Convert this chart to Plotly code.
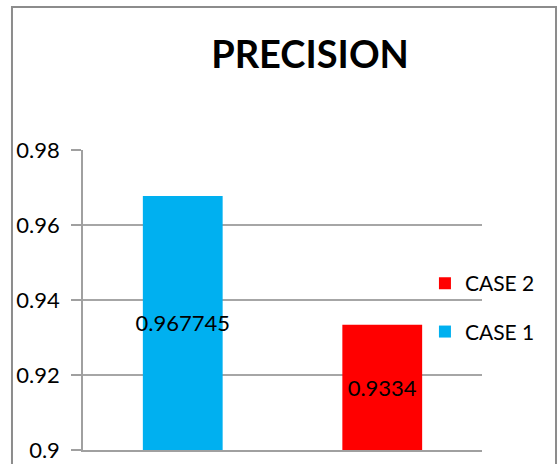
import plotly.graph_objects as go

categories = ["CASE 1", "CASE 2"]
values = [0.967745, 0.9334]
colors = ["#00B0F0", "#FF0000"]
legend_ranks = [2, 1]
y_ticks = [0.9, 0.92, 0.94, 0.96, 0.98]
y_tick_labels = ["0.9", "0.92", "0.94", "0.96", "0.98"]
axis_min = 0.9
axis_max = 0.98
title_text = "PRECISION"

FONT = "Lato"

fig = go.Figure()
for cat, val, col, rank in zip(categories, values, colors, legend_ranks):
    # bar drawn from the axis minimum (as in the original chart) up to the value
    fig.add_trace(go.Bar(
        x=[cat], y=[val - axis_min], base=axis_min, name=cat,
        marker=dict(color=col, line=dict(width=0)),
        width=0.4,
        text=[str(val)], textposition="inside", insidetextanchor="middle",
        textangle=0,
        textfont=dict(family=FONT, size=22, color="black"),
        constraintext="none",
        legendgroup=cat, legendrank=rank,
    ))

fig.update_layout(
    width=560, height=464,
    margin=dict(l=83, r=78, t=150, b=14, autoexpand=False),
    paper_bgcolor="white", plot_bgcolor="white",
    barmode="overlay",
    showlegend=True,
    title=dict(text=f"<b>{title_text}</b>", x=0.5536, xref="container", xanchor="center",
               y=1 - 55 / 464, yref="container", yanchor="middle",
               font=dict(family=FONT, size=38, color="black")),
    legend=dict(x=0.857, xanchor="left", y=0.623, yanchor="top",
                traceorder="grouped", tracegroupgap=18,
                font=dict(family=FONT, size=21, color="black"),
                bgcolor="rgba(0,0,0,0)"),
    xaxis=dict(categoryorder="array", categoryarray=categories,
               showticklabels=False, showgrid=False, ticks="", automargin=False,
               showline=True, linecolor="#A0A0A0", linewidth=2, fixedrange=True),
    yaxis=dict(range=[axis_min, axis_max], tickvals=y_ticks, ticktext=y_tick_labels,
               showgrid=True, gridcolor="#A6A6A6", gridwidth=1.5, automargin=False,
               showline=True, linecolor="#A0A0A0", linewidth=1.5,
               ticks="outside", ticklen=10, tickcolor="#A0A0A0", tickwidth=1.5,
               ticklabelstandoff=7, zeroline=False,
               tickfont=dict(family=FONT, size=22, color="black")),
)

# outer chart border (frame around the whole chart area)
fig.add_shape(type="path",
              xref="paper", yref="paper",
              path="M -0.178 -0.1 L -0.178 1.4767 L 1.1855 1.4767 L 1.1855 -0.1",
              line=dict(color="#8C8C8C", width=2), layer="above")

fig.write_html("out.html")
